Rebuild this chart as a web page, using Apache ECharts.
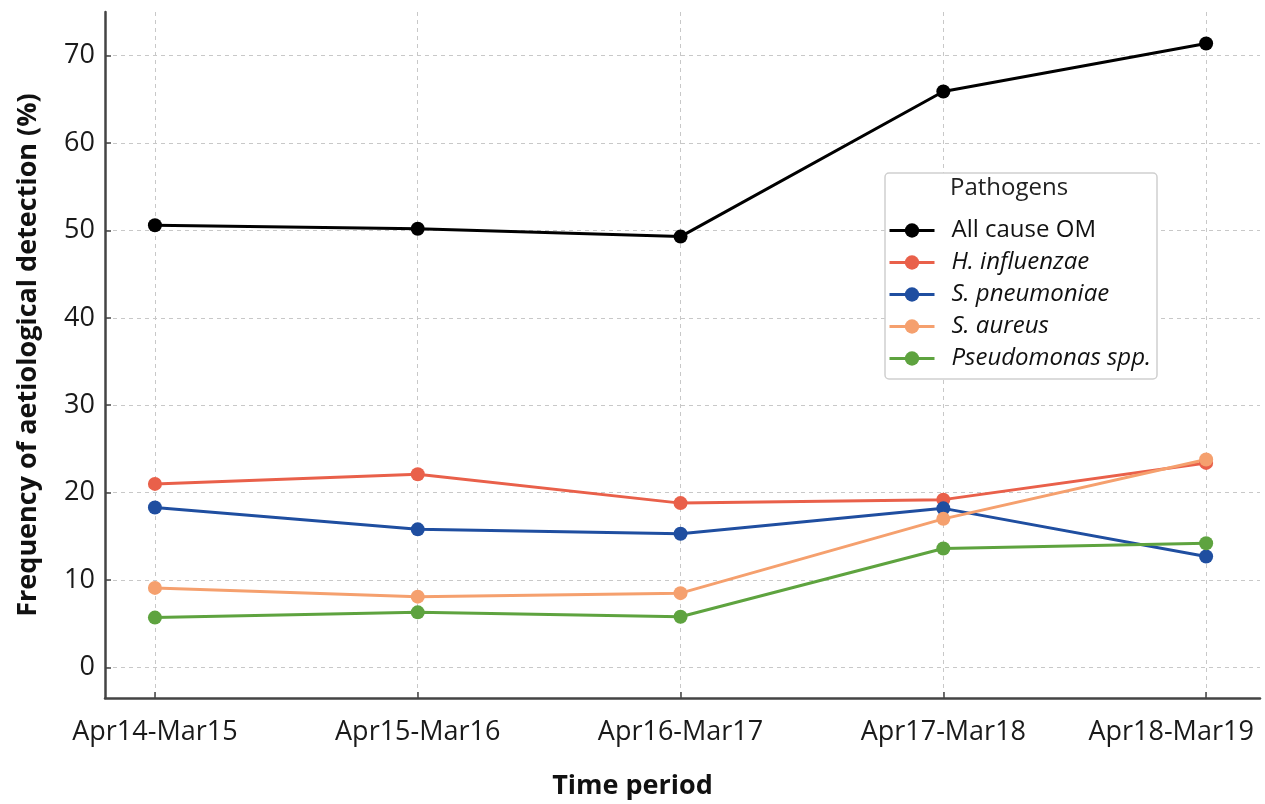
<!DOCTYPE html>
<html>
<head>
<meta charset="utf-8">
<script src="https://cdn.jsdelivr.net/npm/echarts@6/dist/echarts.min.js"></script>
<style>
  html, body { margin: 0; padding: 0; background: #fff; }
  #main { width: 1265px; height: 804px; }
</style>
</head>
<body>
<div id="main"></div>
<script>
// time periods on the x axis
var periods = ['Apr14-Mar15', 'Apr15-Mar16', 'Apr16-Mar17', 'Apr17-Mar18', 'Apr18-Mar19'];
var yTicks = [0, 10, 20, 30, 40, 50, 60, 70];

// frequency of detection (%) per pathogen
var allCause = [50.6, 50.2, 49.3, 65.9, 71.4];
var hInfluenzae = [21.0, 22.1, 18.8, 19.2, 23.4];
var sPneumoniae = [18.3, 15.8, 15.3, 18.2, 12.7];
var sAureus = [9.1, 8.1, 8.5, 17.0, 23.8];
var pseudomonas = [5.7, 6.3, 5.8, 13.6, 14.2];

var seriesNames = ['All cause OM', 'H. influenzae', 'S. pneumoniae', 'S. aureus', 'Pseudomonas spp.'];
var seriesValues = [allCause, hInfluenzae, sPneumoniae, sAureus, pseudomonas];
var colors = ['#000000', '#e9604a', '#1f4ea0', '#f5a06e', '#5ea33f'];

var FONT = '"Open Sans", "Noto Sans", sans-serif';

function pairs(arr) {
  return arr.map(function (v, i) { return [i, v]; });
}

var chart = echarts.init(document.getElementById('main'), null, { renderer: 'canvas' });

var series = seriesNames.map(function (name, k) {
  return {
    name: name,
    type: 'line',
    data: pairs(seriesValues[k]),
    symbol: 'circle',
    symbolSize: 14,
    color: colors[k],
    lineStyle: { width: 3, color: colors[k] },
    itemStyle: { color: colors[k] },
    animation: false
  };
});

var option = {
  backgroundColor: '#fff',
  animation: false,
  grid: { left: 105, right: 5, top: 12, bottom: 106, outerBoundsMode: 'none', containLabel: false },
  title: [
    {
      text: 'Pathogens',
      left: 950, top: 176,
      padding: 0,
      textStyle: { fontFamily: FONT, fontSize: 24, fontWeight: 'normal', color: '#222' }
    },
    {
      text: 'Time period',
      left: 'center', top: 773,
      padding: 0,
      textStyle: { fontFamily: FONT, fontSize: 27, fontWeight: 'bold', color: '#111' }
    }
  ],
  graphic: [{
    type: 'rect',
    shape: { x: 885, y: 173, width: 272, height: 206, r: 4 },
    style: { fill: '#fff', stroke: '#cfcfcf', lineWidth: 1.5 },
    z: 1
  }],
  legend: {
    orient: 'vertical',
    left: 888, top: 218,
    padding: 0,
    itemWidth: 45,
    itemHeight: 18,
    itemGap: 7,
    z: 5,
    lineStyle: { width: 3 },
    textStyle: { fontFamily: FONT, fontSize: 24, color: '#111', lineHeight: 25, padding: [0, 0, 0, 12] },
    data: seriesNames.map(function (n, k) {
      return { name: n, textStyle: { fontStyle: k === 0 ? 'normal' : 'italic' } };
    })
  },
  xAxis: {
    type: 'value',
    min: -0.19,
    max: 4.205,
    axisLine: { show: true, onZero: false, lineStyle: { color: '#444', width: 2.5 } },
    axisTick: { show: true, inside: true, length: 6, customValues: [0, 1, 2, 3, 4], lineStyle: { color: '#444', width: 1.5 } },
    axisLabel: {
      customValues: [0, 1, 2, 3, 4],
      margin: 21,
      fontFamily: FONT, fontSize: 27, color: '#1a1a1a',
      formatter: function (v) {
        var i = Math.round(v);
        // last label sits a bit to the left so it stays inside the picture
        return i === periods.length - 1 ? '{last|' + periods[i] + '}' : periods[i];
      },
      rich: {
        last: { fontFamily: FONT, fontSize: 27, color: '#1a1a1a', padding: [0, 70, 0, 0] }
      }
    },
    splitLine: { show: true, lineStyle: { color: '#c8c8c8', type: [4, 4], width: 1 } }
  },
  yAxis: {
    type: 'value',
    min: -3.5,
    max: 75,
    name: 'Frequency of aetiological detection (%)',
    nameLocation: 'middle',
    nameRotate: 90,
    nameGap: 63,
    nameTextStyle: { fontFamily: FONT, fontSize: 27, fontWeight: 'bold', color: '#111' },
    axisLine: { show: true, onZero: false, lineStyle: { color: '#444', width: 2.5 } },
    axisTick: { show: true, inside: true, length: 6, customValues: yTicks, lineStyle: { color: '#444', width: 1.5 } },
    axisLabel: {
      customValues: yTicks,
      margin: 10,
      fontFamily: FONT, fontSize: 27, color: '#1a1a1a'
    },
    splitLine: { show: true, lineStyle: { color: '#c8c8c8', type: [4, 4], width: 1 } }
  },
  series: series
};

chart.setOption(option);
</script>
</body>
</html>
